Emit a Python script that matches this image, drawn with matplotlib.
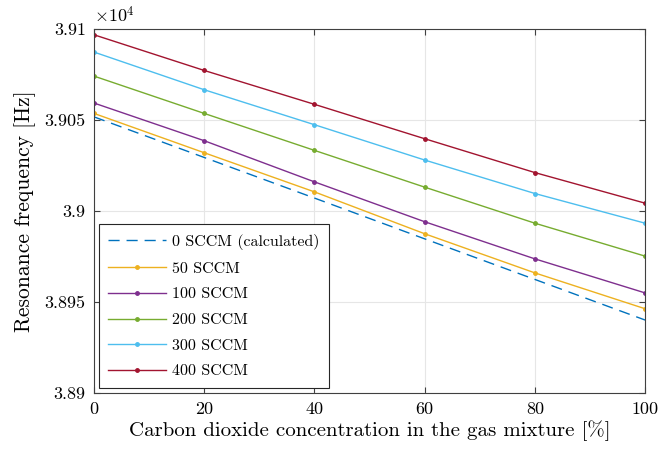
import numpy as np
import matplotlib
matplotlib.use("Agg")
import matplotlib.pyplot as plt
from matplotlib.ticker import FuncFormatter

# ── Data ─────────────────────────────────────────────────────────────
co2 = [0, 20, 40, 60, 80, 100]

f_0_calc = [39051.6, 39029.3, 39007.0, 38984.6, 38962.3, 38940.0]
f_50 = [39053.5, 39031.9, 39010.4, 38987.4, 38965.9, 38946.2]
f_100 = [39059.2, 39038.5, 39015.9, 38994.0, 38973.6, 38954.9]
f_200 = [39074.0, 39053.5, 39033.2, 39013.0, 38993.2, 38975.1]
f_300 = [39087.2, 39066.5, 39047.3, 39027.9, 39009.5, 38993.2]
f_400 = [39096.7, 39077.1, 39058.5, 39039.6, 39021.0, 39004.2]

labels = ["0 SCCM (calculated)", "50 SCCM", "100 SCCM",
          "200 SCCM", "300 SCCM", "400 SCCM"]
colors = ["#0072BD", "#EDB120", "#7E2F8E", "#77AC30", "#4DBEEE", "#A2142F"]

# ── Style (LaTeX-ish look) ───────────────────────────────────────────
plt.rcParams["font.family"] = "serif"
plt.rcParams["font.serif"] = ["cmr10", "DejaVu Serif"]
plt.rcParams["mathtext.fontset"] = "cm"
plt.rcParams["axes.unicode_minus"] = False

fig = plt.figure(figsize=(6.72, 4.5), dpi=100)
ax = fig.add_axes([0.14, 0.127, 0.82, 0.809])

ax.plot(co2, f_0_calc, linestyle=(0, (8, 5)), color=colors[0], lw=1.0,
        label=labels[0])
series = [f_50, f_100, f_200, f_300, f_400]
for vals, lab, col in zip(series, labels[1:], colors[1:]):
    ax.plot(co2, vals, "-", marker="o", ms=2.5, color=col, lw=1.0, label=lab)

ax.set_xlim(0, 100)
ax.set_ylim(38900, 39100)
ax.set_xticks(co2)
ax.set_yticks([38900, 38950, 39000, 39050, 39100])
ax.yaxis.set_major_formatter(FuncFormatter(lambda v, p: f"{v / 1e4:g}"))

ax.grid(True, color="#e6e6e6", lw=0.8)
ax.set_axisbelow(True)
ax.tick_params(direction="in", top=True, right=True, labelsize=13,
               color="#404040", length=4, pad=6)
for s in ax.spines.values():
    s.set_color("#404040")
    s.set_linewidth(0.8)

ax.set_xlabel("Carbon dioxide concentration in the gas mixture [%]",
              fontsize=15, labelpad=3)
ax.set_ylabel("Resonance frequency [Hz]", fontsize=15.5, labelpad=6)
ax.text(0.0, 1.008, r"$\times 10^4$", transform=ax.transAxes, fontsize=13,
        ha="left", va="bottom")

leg = ax.legend(loc="lower left", fontsize=11.5, fancybox=False,
                edgecolor="#262626", framealpha=1, handlelength=3.6,
                handletextpad=0.35, borderpad=0.6,
                borderaxespad=0.3, labelspacing=0.72)
leg.get_frame().set_linewidth(0.8)

fig.savefig("out.png", dpi=100)
